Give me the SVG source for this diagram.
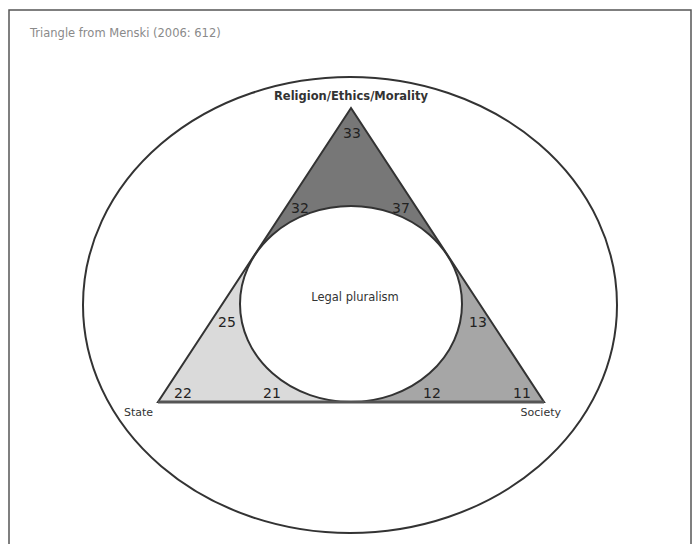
<svg xmlns="http://www.w3.org/2000/svg" width="695" height="544" viewBox="0 0 695 544">
<style>
.lbl{font-family:"DejaVu Sans","Liberation Sans",sans-serif;fill:#333}
.num{font-family:"DejaVu Sans","Liberation Sans",sans-serif;font-size:14px;fill:#222;text-anchor:middle}
.edge{fill:none;stroke:#333;stroke-width:2}
</style>
<rect width="695" height="544" fill="#fff"/>
<rect x="9" y="10" width="682" height="545" fill="none" stroke="#555" stroke-width="1.5"/>
<text class="lbl" x="30" y="37" font-size="11.5" style="fill:#8a8a8a">Triangle from Menski (2006: 612)</text>
<g id="outer">
<ellipse cx="350" cy="305" rx="267" ry="228" class="edge" stroke="#444"/>
</g>
<g id="regions">
<path id="top" d="M351,108 L255,254.9 A111,98 0 0 1 447,254.9 Z" fill="#777"/>
<path id="left" d="M255,254.9 L158,402 L351,402 A111,98 0 0 1 255,254.9 Z" fill="#dadada"/>
<path id="right" d="M447,254.9 L544,402 L351,402 A111,98 0 0 0 447,254.9 Z" fill="#a6a6a6"/>
</g>
<g id="legal">
<ellipse cx="351" cy="304" rx="111" ry="98" fill="#fff" class="edge"/>
<text class="lbl" x="355" y="301" font-size="11.5" text-anchor="middle">Legal pluralism</text>
</g>
<g id="triangle">
<path d="M351,108 L544,402 L158,402 Z" class="edge" stroke-linejoin="miter"/>
<line x1="158" y1="402" x2="544" y2="402" stroke="#555" stroke-width="3"/>
</g>
<g id="nums">
<text class="num" x="352" y="138">33</text>
<text class="num" x="300" y="213">32</text>
<text class="num" x="401" y="213">37</text>
<text class="num" x="227" y="327">25</text>
<text class="num" x="478" y="327">13</text>
<text class="num" x="183" y="398">22</text>
<text class="num" x="272" y="398">21</text>
<text class="num" x="432" y="398">12</text>
<text class="num" x="522" y="398">11</text>
</g>
<g id="corners">
<text class="lbl" x="351" y="100" font-size="11.5" font-weight="bold" text-anchor="middle">Religion/Ethics/Morality</text>
<text class="lbl" x="124" y="416" font-size="11">State</text>
<text class="lbl" x="561" y="416" font-size="11" text-anchor="end">Society</text>
</g>
</svg>
